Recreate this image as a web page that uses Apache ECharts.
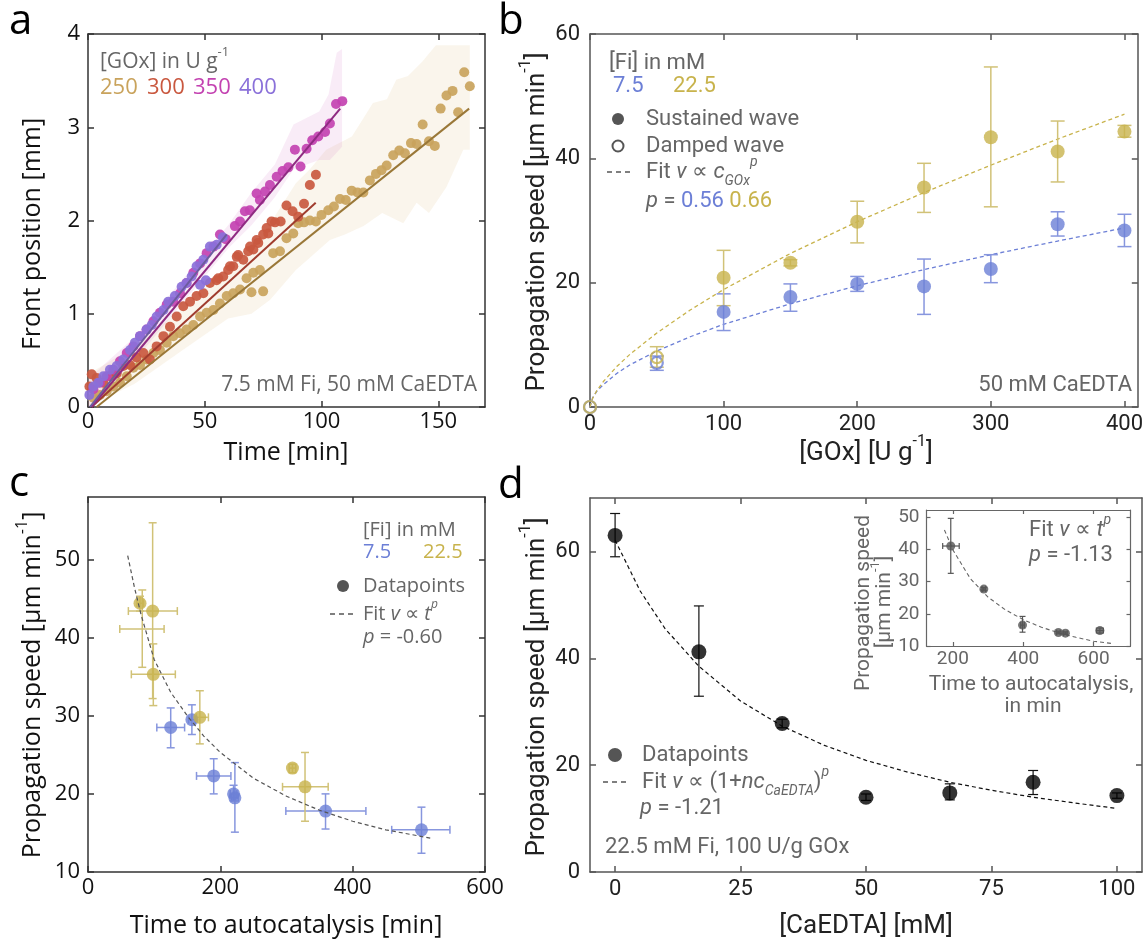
<!DOCTYPE html>
<html><head><meta charset="utf-8">
<script src="https://cdn.jsdelivr.net/npm/echarts@6/dist/echarts.min.js"></script>
<style>html,body{margin:0;padding:0;background:#fff}#c{width:1146px;height:943px}</style>
</head><body><div id="c"></div>
<script>
// ================= DATA =================
// ---- Panel a: front position [mm] vs time [min] ----
const A_XTICKS = [0, 50, 100, 150];
const A_YTICKS = [0, 1, 2, 3, 4];
const A250 = [[2.3,0.10],[5.1,0.13],[8,0.17],[10.8,0.22],[13.7,0.26],[16.6,0.33],[19.4,0.42],[22.3,0.45],[25.1,0.51],[28,0.58],[30.8,0.61],[33.7,0.69],[36.5,0.76],[39.4,0.79],[42.2,0.83],[45.1,0.88],[48,0.97],[50.8,1.01],[53.7,1.04],[56.5,1.11],[59.4,1.19],[62.2,1.22],[65.1,1.26],[67.9,1.38],[70,1.23],[70.8,1.44],[73.6,1.47],[75,1.24],[79.3,1.65],[82.2,1.67],[85,1.81],[87.9,1.86],[90,1.97],[92.5,1.98],[95,2.00],[97.6,1.99],[100,2.06],[102.9,2.11],[105.3,2.15],[107.9,2.23],[110.4,2.22],[112.9,2.32],[115.4,2.30],[117.9,2.30],[120.7,2.43],[123.3,2.50],[125.7,2.54],[127.9,2.59],[130.7,2.70],[133.3,2.75],[135.7,2.72],[138.3,2.83],[140.7,2.82],[143.3,3.03],[146,2.85],[148.5,2.80],[151,3.20],[153.5,3.34],[156.1,3.39],[158.5,3.16],[161.1,3.59],[163.5,3.44]];
const A300 = [[0.6,0.22],[1.6,0.35],[3.7,0.31],[6.6,0.26],[9.4,0.33],[12.3,0.36],[15.1,0.44],[18,0.45],[20.8,0.53],[23.7,0.58],[26.5,0.51],[29.4,0.65],[32.3,0.76],[35.1,0.86],[38,0.97],[40.8,1.08],[43.7,1.13],[46.5,1.19],[49.4,1.22],[52.2,1.33],[55.1,1.36],[55.8,1.38],[57.9,1.40],[60,1.47],[60.8,1.51],[62.2,1.51],[63.7,1.61],[64.3,1.63],[66.5,1.58],[68.6,1.67],[69.4,1.72],[70.8,1.69],[72.2,1.79],[72.9,1.76],[75,1.85],[76.5,1.92],[77.2,1.86],[78.6,1.99],[80.1,1.98],[82.5,1.99],[85,2.16],[87.6,2.10],[90,2.04],[92.5,2.18],[95,2.38],[97.6,2.49]];
const A350 = [[2.3,0.19],[5.1,0.26],[8,0.33],[10.8,0.40],[13.7,0.49],[16.6,0.58],[19.4,0.65],[22.3,0.76],[25.1,0.83],[28,0.92],[30.8,1.01],[33.7,1.10],[36.5,1.13],[39.4,1.22],[42.2,1.33],[45.1,1.44],[48,1.54],[50.8,1.65],[53.7,1.72],[56.5,1.85],[59,1.80],[62.9,1.94],[65.1,1.99],[67.2,2.10],[69.3,2.11],[72.2,2.29],[73.6,2.22],[75.8,2.31],[77.9,2.38],[80.8,2.47],[83.3,2.53],[85.8,2.57],[88.6,2.76],[91,2.58],[93.6,2.77],[96,2.86],[98.6,2.90],[101.5,2.95],[103.6,3.04],[106.2,3.25],[108.9,3.28]];
const A400 = [[0.6,0.13],[2.3,0.22],[4.4,0.26],[6.6,0.33],[9.4,0.40],[12.3,0.44],[15.1,0.51],[18,0.61],[20.1,0.69],[22.3,0.76],[25.1,0.83],[27.3,0.88],[29.4,0.97],[32.3,1.04],[34.4,1.13],[37.2,1.19],[40.1,1.29],[42.2,1.33],[44.4,1.40],[46.5,1.51],[48,1.31],[49.4,1.58],[50.5,1.36],[52.2,1.72],[55.1,1.74],[57.7,1.82]];
const FIT_A250 = [[3.7,0],[163.2,3.2]];
const FIT_A300 = [[1.5,0],[97.5,2.19]];
const FIT_A350 = [[1.5,0],[108,3.2]];
const FIT_A400 = [[0.8,0],[59.4,1.85]];
const BAND_A250_UP = [[0,0.35],[20,0.65],[40,1.05],[60,1.5],[75,1.85],[89,2.4],[95,2.55],[102,2.76],[113,2.9],[118,3.1],[122,3.26],[128,3.3],[132,3.51],[137,3.55],[143,3.70],[149,3.88],[163.5,3.88]];
const BAND_A250_LO = [[0,0],[20,0.25],[40,0.6],[60,0.95],[70,1.0],[78,1.15],[89,1.47],[95,1.6],[103.6,1.79],[110,1.85],[118,1.94],[126,2.08],[135,1.97],[140.7,2.19],[146,2.08],[153.5,2.36],[160.7,2.76],[163.5,2.76]];
const BAND_A350_UP = [[0,0.3],[20,0.75],[40,1.35],[60,1.95],[70,2.3],[80,2.6],[88,3.03],[99,3.17],[103,3.35],[106.5,3.8],[108.8,3.84]];
const BAND_A350_LO = [[0,0],[20,0.5],[40,1.1],[60,1.7],[70,1.95],[80,2.25],[88,2.55],[99,2.65],[103.6,2.65],[108.8,2.79]];

// ---- Panel b: propagation speed vs [GOx] ----
const B_XTICKS = [0, 100, 200, 300, 400];
const B_YTICKS = [0, 20, 40, 60];
const GOX_B = [0, 50, 100, 150, 200, 250, 300, 350, 400];
const DAMPED_B = [true, true, false, false, false, false, false, false, false];
const BLUE_B_V  = [0, 7.1, 15.3, 17.7, 19.8, 19.4, 22.2, 29.4, 28.4];
const BLUE_B_LO = [0, 5.9, 12.3, 15.4, 18.6, 14.9, 20.0, 27.5, 25.8];
const BLUE_B_HI = [0, 8.2, 18.2, 19.8, 21.0, 23.8, 24.5, 31.4, 31.0];
const YEL_B_V   = [0, 8.0, 20.8, 23.2, 29.8, 35.3, 43.4, 41.1, 44.3];
const YEL_B_LO  = [0, 6.4, 16.3, 22.7, 26.4, 31.3, 32.2, 36.2, 43.4];
const YEL_B_HI  = [0, 9.7, 25.2, 23.7, 33.1, 39.2, 54.7, 46.0, 45.3];
const FIT_B_X    = [0, 2, 5, 10, 20, 30, 50, 75, 100, 150, 200, 250, 300, 350, 400];
const FIT_B_BLUE = [0, 1.5, 2.5, 3.6, 5.4, 6.8, 9.0, 11.3, 13.3, 16.6, 19.5, 22.1, 24.5, 26.7, 28.8];
const FIT_B_YEL  = [0, 1.4, 2.6, 4.1, 6.5, 8.5, 11.9, 15.6, 18.9, 24.7, 29.8, 34.5, 38.9, 43.1, 47.1];

// ---- Panel c: propagation speed vs time to autocatalysis ----
const C_XTICKS = [0, 200, 400, 600];
const C_YTICKS = [10, 20, 30, 40, 50];
const BLUE_C_T   = [125, 157, 190, 220, 222, 359, 504];
const BLUE_C_TLO = [104, 152, 164, 215, 217, 299, 459];
const BLUE_C_THI = [146, 162, 216, 225, 227, 420, 547];
const BLUE_C_V   = [28.5, 29.5, 22.3, 20.0, 19.5, 17.8, 15.4];
const BLUE_C_LO  = [25.9, 27.6, 20.0, 19.1, 15.1, 15.5, 12.4];
const BLUE_C_HI  = [31.0, 31.4, 24.5, 21.1, 24.0, 20.0, 18.3];
const YEL_C_T    = [78.6, 97.7, 82, 98.7, 169, 309, 328];
const YEL_C_TLO  = [74, 61, 48, 65.5, 164, 304, 294];
const YEL_C_THI  = [84, 135, 115, 132, 182, 314, 363];
const YEL_C_V    = [44.4, 43.4, 41.1, 35.3, 29.8, 23.3, 20.9];
const YEL_C_LO   = [43.4, 32.2, 36.2, 31.3, 26.4, 22.7, 16.5];
const YEL_C_HI   = [45.3, 54.7, 46.1, 39.2, 33.2, 23.8, 25.3];
const YEL_C_MARKER = [true, true, false, true, true, true, true];
const FIT_C_T = [60, 70, 80, 100, 125, 150, 175, 200, 250, 300, 350, 400, 450, 520];
const FIT_C_V = [50.5, 46.5, 43.0, 37.2, 33.0, 30.0, 27.4, 25.3, 22.0, 19.7, 17.9, 16.5, 15.4, 14.3];

// ---- Panel d: propagation speed vs [CaEDTA] ----
const D_XTICKS = [0, 25, 50, 75, 100];
const D_YTICKS = [0, 20, 40, 60];
const CA_D   = [0, 16.7, 33.3, 50, 66.7, 83.3, 100];
const D_V    = [63.0, 41.2, 27.8, 14.0, 14.8, 16.8, 14.3];
const D_LO   = [59.0, 32.9, 27.0, 13.4, 13.5, 14.5, 13.8];
const D_HI   = [67.1, 49.8, 28.6, 14.6, 16.5, 19.0, 14.8];
const FIT_D_X = [0, 5, 10, 16.7, 25, 33.3, 41.7, 50, 58.3, 66.7, 75, 83.3, 91.7, 100];
const FIT_D_V = [62.1, 52.6, 45.5, 38.5, 32.0, 27.3, 23.7, 20.9, 18.7, 16.8, 15.3, 14.0, 12.9, 11.9];
// inset
const INS_XTICKS = [200, 400, 600];
const INS_YTICKS = [10, 20, 30, 40, 50];
const INS_T   = [194, 288, 398, 500, 520, 618];
const INS_TLO = [171, 283, 393, 495, 515, 608];
const INS_THI = [218, 293, 403, 505, 525, 628];
const INS_V   = [41.1, 27.7, 16.5, 14.2, 14.0, 14.8];
const INS_LO  = [32.6, 27.2, 14.3, 13.8, 13.6, 14.0];
const INS_HI  = [49.7, 28.2, 19.2, 14.6, 14.4, 15.6];
const FIT_INS_T = [176, 200, 250, 300, 350, 400, 450, 500, 550, 600, 650];
const FIT_INS_V = [46.1, 39.9, 30.9, 25.2, 21.2, 18.2, 15.9, 14.1, 12.7, 11.5, 10.8];

// ================= STYLE =================
const FA = '"Open Sans", "Noto Sans", sans-serif';
const FB = 'Roboto, "Noto Sans", sans-serif';
const GRAY = '#666';
const C250 = '#c9a35c', C300 = '#c9583f', C350 = '#c342b1', C400 = '#8a70d9';
const L250 = '#9a7838', L300 = '#a03c2e', L350 = '#8f2b82', L400 = '#6c5c9f';
const BLUE = '#6c7fd6', YEL = '#c8b34c', BLUE_E = '#8796de', YEL_E = '#d1c277';

const chart = echarts.init(document.getElementById('c'), null, {renderer: 'canvas'});

const grids = [
  {left: 88, top: 34, width: 397, height: 373},
  {left: 590, top: 34, width: 552, height: 373},
  {left: 88, top: 497, width: 397, height: 375},
  {left: 590, top: 498, width: 552, height: 374},
  {left: 926.5, top: 510, width: 204, height: 136}
];

const xAxes = [], yAxes = [];
function mkAxes(gi, xr, yr, xt, yt, st) {
  const base = (min, max, ticks, pos, lab) => ({
    gridIndex: gi, type: 'value', min: min, max: max, position: pos,
    axisLine: {show: true, onZero: false, lineStyle: {color: st.line, width: st.lw}},
    axisTick: {show: true, inside: true, length: st.tl, customValues: ticks, lineStyle: {color: st.line, width: st.lw}},
    axisLabel: {show: lab, customValues: ticks, color: st.lab, fontSize: st.fs, fontFamily: st.font,
                margin: (pos === 'bottom' || pos === 'top') ? st.mx : st.my},
    splitLine: {show: false}
  });
  xAxes.push(base(xr[0], xr[1], xt, 'bottom', true), base(xr[0], xr[1], xt, 'top', false));
  yAxes.push(base(yr[0], yr[1], yt, 'left', true), base(yr[0], yr[1], yt, 'right', false));
}
mkAxes(0, [0, 170], [0, 4], A_XTICKS, A_YTICKS, {line: '#333', lw: 1.5, tl: 6, lab: '#111', fs: 22, font: FA, mx: 4, my: 8});
mkAxes(1, [0, 410], [0, 60], B_XTICKS, B_YTICKS, {line: '#555', lw: 1.5, tl: 6, lab: '#222', fs: 22, font: FB, mx: 6, my: 10});
mkAxes(2, [0, 600], [10, 58], C_XTICKS, C_YTICKS, {line: '#333', lw: 1.5, tl: 6, lab: '#111', fs: 22, font: FA, mx: 5, my: 8});
mkAxes(3, [-5, 105], [0, 70], D_XTICKS, D_YTICKS, {line: '#555', lw: 1.5, tl: 6, lab: '#222', fs: 22, font: FB, mx: 6, my: 10});
mkAxes(4, [125, 705], [10, 52.3], INS_XTICKS, INS_YTICKS, {line: '#666', lw: 1.2, tl: 4, lab: GRAY, fs: 19, font: FB, mx: 4, my: 7});

const zip = (a, b) => a.map((v, i) => [v, b[i]]);
const series = [];

function band(gi, up, lo, fill) {
  series.push({
    type: 'custom', xAxisIndex: 2 * gi, yAxisIndex: 2 * gi, data: [[0, 0]], silent: true, z: 1,
    renderItem: (p, api) => {
      const pts = up.map(d => api.coord(d)).concat(lo.slice().reverse().map(d => api.coord(d)));
      return {type: 'polygon', shape: {points: pts}, style: {fill: fill}};
    }
  });
}
function scatter(gi, data, color, size, extra) {
  series.push(Object.assign({
    type: 'scatter', xAxisIndex: 2 * gi, yAxisIndex: 2 * gi, data: data, symbol: 'circle',
    symbolSize: size, itemStyle: {color: color}, z: 3, silent: true
  }, extra || {}));
}
function line(gi, data, color, width, dashed, z) {
  series.push({
    type: 'line', xAxisIndex: 2 * gi, yAxisIndex: 2 * gi, data: data, showSymbol: false, symbol: 'none',
    lineStyle: {color: color, width: width, type: dashed ? [4, 3] : 'solid'}, z: z || 2, silent: true, smooth: false
  });
}
function errbars(gi, data, color, lw, cap) {
  // item: [x, y, ylo, yhi, (xlo, xhi)]
  series.push({
    type: 'custom', xAxisIndex: 2 * gi, yAxisIndex: 2 * gi, data: data, silent: true, z: 2,
    encode: {x: 0, y: 1},
    renderItem: (p, api) => {
      const x = api.value(0), y = api.value(1), lo = api.value(2), hi = api.value(3);
      const st = {stroke: color, lineWidth: lw};
      const ch = [];
      const seg = (x1, y1, x2, y2) => ch.push({type: 'line', shape: {x1: x1, y1: y1, x2: x2, y2: y2}, style: st});
      if (hi > lo) {
        const a = api.coord([x, lo]), b = api.coord([x, hi]);
        seg(a[0], a[1], b[0], b[1]);
        seg(a[0] - cap, a[1], a[0] + cap, a[1]);
        seg(b[0] - cap, b[1], b[0] + cap, b[1]);
      }
      const xlo = api.value(4), xhi = api.value(5);
      if (!isNaN(xlo) && xhi > xlo) {
        const a = api.coord([xlo, y]), b = api.coord([xhi, y]);
        seg(a[0], a[1], b[0], b[1]);
        seg(a[0], a[1] - cap, a[0], a[1] + cap);
        seg(b[0], b[1] - cap, b[0], b[1] + cap);
      }
      return {type: 'group', children: ch};
    }
  });
}

// ---- panel a ----
band(0, BAND_A250_UP, BAND_A250_LO, 'rgba(225,200,150,0.18)');
band(0, BAND_A350_UP, BAND_A350_LO, 'rgba(210,120,200,0.14)');
scatter(0, A250, C250, 10, {itemStyle: {color: C250, opacity: 0.92}});
scatter(0, A300, C300, 10, {itemStyle: {color: C300, opacity: 0.92}});
scatter(0, A350, C350, 10, {itemStyle: {color: C350, opacity: 0.92}});
scatter(0, A400, C400, 10, {itemStyle: {color: C400, opacity: 0.92}});
line(0, FIT_A250, L250, 2, false, 4);
line(0, FIT_A300, L300, 2, false, 4);
line(0, FIT_A350, L350, 2, false, 4);
line(0, FIT_A400, L400, 2, false, 4);

// ---- panel b ----
line(1, zip(FIT_B_X, FIT_B_BLUE), BLUE, 1.3, true, 1);
line(1, zip(FIT_B_X, FIT_B_YEL), YEL, 1.3, true, 1);
errbars(1, GOX_B.map((g, i) => [g, BLUE_B_V[i], BLUE_B_LO[i], BLUE_B_HI[i]]), BLUE_E, 1.5, 7);
errbars(1, GOX_B.map((g, i) => [g, YEL_B_V[i], YEL_B_LO[i], YEL_B_HI[i]]), YEL_E, 1.5, 7);
scatter(1, GOX_B.map((g, i) => [g, BLUE_B_V[i]]).filter((d, i) => !DAMPED_B[i]), BLUE, 14);
scatter(1, GOX_B.map((g, i) => [g, YEL_B_V[i]]).filter((d, i) => !DAMPED_B[i]), YEL, 14);
scatter(1, GOX_B.map((g, i) => [g, BLUE_B_V[i]]).filter((d, i) => DAMPED_B[i]), BLUE, 12,
  {itemStyle: {color: 'rgba(255,255,255,0)', borderColor: BLUE, borderWidth: 2.2}});
scatter(1, GOX_B.map((g, i) => [g, YEL_B_V[i]]).filter((d, i) => DAMPED_B[i]), YEL, 12,
  {itemStyle: {color: 'rgba(255,255,255,0)', borderColor: YEL, borderWidth: 2.2}});

// ---- panel c ----
errbars(2, BLUE_C_T.map((t, i) => [t, BLUE_C_V[i], BLUE_C_LO[i], BLUE_C_HI[i], BLUE_C_TLO[i], BLUE_C_THI[i]]), BLUE_E, 1.5, 4);
errbars(2, YEL_C_T.map((t, i) => [t, YEL_C_V[i], YEL_C_LO[i], YEL_C_HI[i], YEL_C_TLO[i], YEL_C_THI[i]]), YEL_E, 1.5, 4);
scatter(2, zip(BLUE_C_T, BLUE_C_V), BLUE, 13);
scatter(2, zip(YEL_C_T, YEL_C_V).filter((d, i) => YEL_C_MARKER[i]), YEL, 13);
line(2, zip(FIT_C_T, FIT_C_V), '#555', 1.2, true, 4);

// ---- panel d ----
line(3, zip(FIT_D_X, FIT_D_V), '#111', 1.2, true, 1);
errbars(3, CA_D.map((c, i) => [c, D_V[i], D_LO[i], D_HI[i]]), '#111', 1.2, 5);
scatter(3, zip(CA_D, D_V), '#000', 15);
// inset
line(4, zip(FIT_INS_T, FIT_INS_V), '#666', 1.1, true, 1);
errbars(4, INS_T.map((t, i) => [t, INS_V[i], INS_LO[i], INS_HI[i], INS_TLO[i], INS_THI[i]]), '#555', 1.2, 3);
scatter(4, zip(INS_T, INS_V), '#555', 9);

// ================= TEXT / LEGENDS =================
const G = [];
function T(x, y, text, fs, font, fill, o) {
  o = o || {};
  const sub = Math.round(fs * 0.62);
  G.push({
    type: 'text', x: x, y: y, rotation: o.rot || 0, silent: true, z: 100,
    style: {
      text: text, fontSize: fs, fontFamily: font, fill: fill, align: o.align || 'left', verticalAlign: 'middle',
      lineHeight: Math.round(fs * 1.5),
      rich: {
        i: {fontStyle: 'italic', fontSize: fs, fontFamily: font, fill: fill, lineHeight: Math.round(fs * 1.5)},
        sup: {fontSize: sub, fontFamily: font, fill: fill, lineHeight: sub + 2, verticalAlign: 'top'},
        isup: {fontSize: sub, fontStyle: 'italic', fontFamily: font, fill: fill, lineHeight: sub + 2, verticalAlign: 'top'},
        isub: {fontSize: sub, fontStyle: 'italic', fontFamily: font, fill: fill, lineHeight: sub + 2, verticalAlign: 'bottom'},
        bl: {fontSize: fs, fontFamily: font, fill: BLUE, lineHeight: Math.round(fs * 1.5)},
        ye: {fontSize: fs, fontFamily: font, fill: YEL, lineHeight: Math.round(fs * 1.5)}
      }
    }
  });
}
function dot(cx, cy, r, filled, color) {
  G.push({type: 'circle', shape: {cx: cx, cy: cy, r: r}, silent: true, z: 100,
    style: filled ? {fill: color} : {fill: 'none', stroke: color, lineWidth: 2}});
}
function dash(x1, x2, y, color) {
  G.push({type: 'line', shape: {x1: x1, y1: y, x2: x2, y2: y}, silent: true, z: 100,
    style: {stroke: color, lineWidth: 1.6, lineDash: [5, 4]}});
}
const R = Math.PI / 2;
// panel letters
T(9, 22, 'a', 42, FA, '#000');
T(498, 22, 'b', 42, FA, '#000');
T(9, 484, 'c', 42, FA, '#000');
T(498, 486, 'd', 42, FA, '#000');
// axis names
T(33, 234, 'Front position [mm]', 25, FA, '#111', {rot: R, align: 'center'});
T(286, 453, 'Time [min]', 25, FA, '#111', {align: 'center'});
T(537, 222, 'Propagation speed [μm min{sup|-1}]', 26, FB, '#222', {rot: R, align: 'center'});
T(866, 453, '[GOx] [U g{sup|-1}]', 26, FB, '#222', {align: 'center'});
T(33, 685, 'Propagation speed [μm min{sup|-1}]', 25, FA, '#111', {rot: R, align: 'center'});
T(286, 926, 'Time to autocatalysis [min]', 25, FA, '#111', {align: 'center'});
T(537, 687, 'Propagation speed [μm min{sup|-1}]', 26, FB, '#222', {rot: R, align: 'center'});
T(866, 926, '[CaEDTA] [mM]', 26, FB, '#222', {align: 'center'});
// panel a legend
T(100, 62, '[GOx] in U g{sup|-1}', 21, FA, GRAY);
T(100, 88, '250', 22, FA, C250);
T(147, 88, '300', 22, FA, C300);
T(193, 88, '350', 22, FA, C350);
T(239, 88, '400', 22, FA, C400);
T(477, 385, '7.5 mM Fi, 50 mM CaEDTA', 21, FA, GRAY, {align: 'right'});
// panel b legend
T(609, 63, '[Fi] in mM', 22, FB, GRAY);
T(613, 86, '7.5', 22, FB, BLUE);
T(673, 86, '22.5', 22, FB, YEL);
dot(618, 119, 6, true, '#555');
T(646, 119, 'Sustained wave', 22, FB, GRAY);
dot(618, 146, 5.5, false, '#555');
T(646, 146, 'Damped wave', 22, FB, GRAY);
dash(607, 633, 172, '#555');
T(646, 172, 'Fit {i|v} ∝ {i|c}{isub|GOx}{isup|p}', 22, FB, GRAY);
T(646, 201, '{i|p} = {bl|0.56} {ye|0.66}', 22, FB, GRAY);
T(1132, 385, '50 mM CaEDTA', 22, FB, GRAY, {align: 'right'});
// panel c legend
T(363, 530, '[Fi] in mM', 20, FA, GRAY);
T(363, 552, '7.5', 20, FA, BLUE);
T(423, 552, '22.5', 20, FA, YEL);
dot(343, 586, 6, true, '#555');
T(363, 586, 'Datapoints', 20, FA, GRAY);
dash(330, 354, 614, '#555');
T(363, 614, 'Fit {i|v} ∝ {i|t}{isup|p}', 20, FA, GRAY);
T(363, 637, '{i|p} = -0.60', 20, FA, GRAY);
// panel d legend
dot(615, 755, 7, true, '#555');
T(642, 755, 'Datapoints', 22, FB, GRAY);
dash(603, 630, 782, '#555');
T(642, 782, 'Fit {i|v} ∝ (1+{i|nc}{isub|CaEDTA}){isup|p}', 22, FB, GRAY);
T(640, 808, '{i|p} = -1.21', 22, FB, GRAY);
T(605, 847, '22.5 mM Fi, 100 U/g GOx', 22, FB, GRAY);
// inset labels
T(1029, 530, 'Fit {i|v} ∝ {i|t}{isup|p}', 22, FB, GRAY);
T(1029, 555, '{i|p} = -1.13', 22, FB, GRAY);
T(1031, 685, 'Time to autocatalysis,', 21, FB, GRAY, {align: 'center'});
T(1033, 707, 'in min', 21, FB, GRAY, {align: 'center'});
T(864, 603, 'Propagation speed', 21, FB, GRAY, {rot: R, align: 'center'});
T(885, 602, '[μm min{sup|-1}]', 21, FB, GRAY, {rot: R, align: 'center'});

chart.setOption({
  animation: false,
  backgroundColor: '#fff',
  grid: grids,
  xAxis: xAxes,
  yAxis: yAxes,
  series: series,
  graphic: G
});
</script>
</body></html>
